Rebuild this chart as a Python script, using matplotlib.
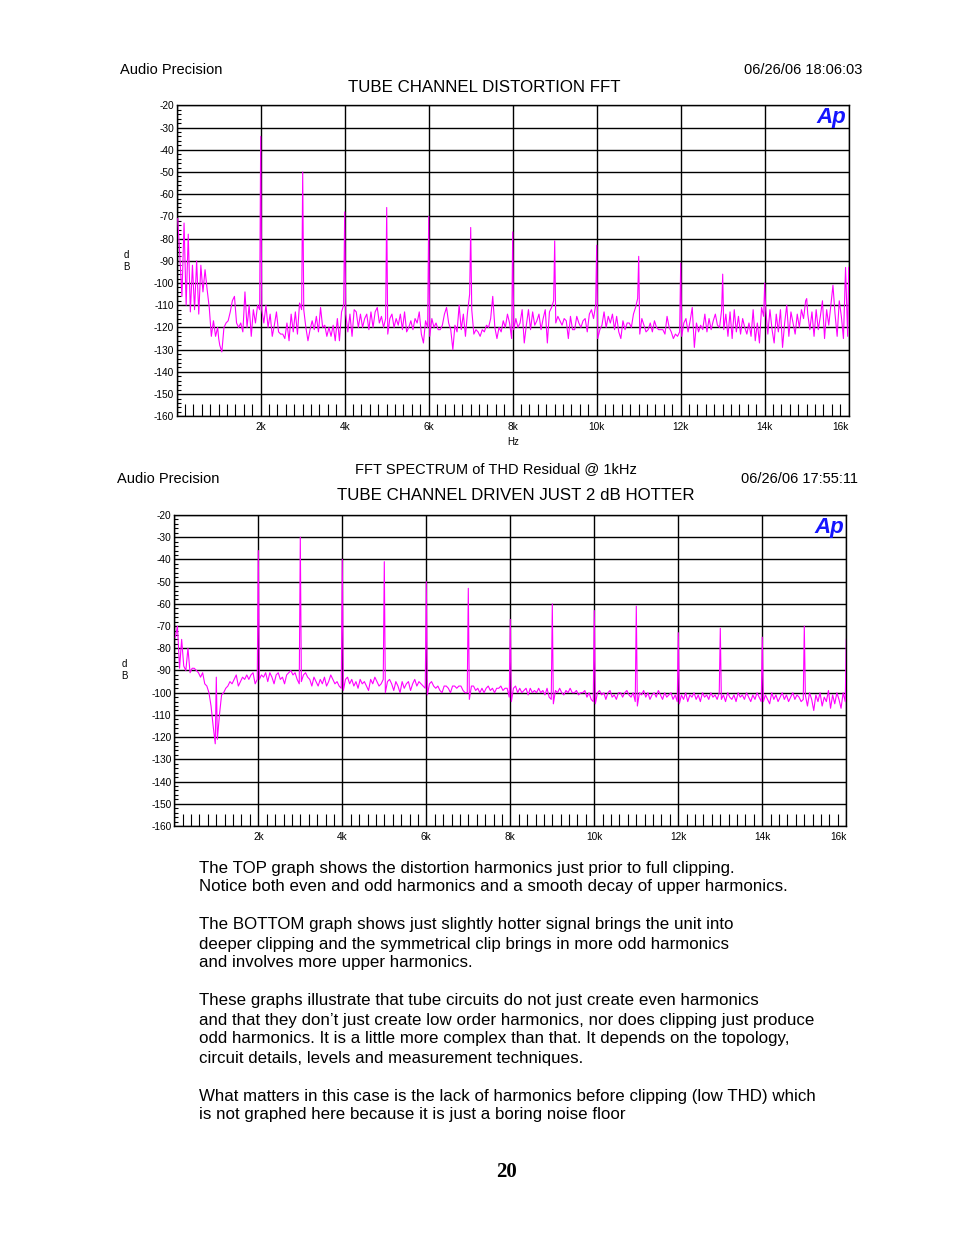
import numpy as np
import matplotlib
matplotlib.use("Agg")
import matplotlib.pyplot as plt
from matplotlib.ticker import MultipleLocator

plt.rcParams["font.family"] = ["Liberation Sans", "DejaVu Sans"]

W, H = 954, 1235
MAGENTA = "#ff00ff"

# harmonic bins 1k..16k (dB)
HARM_HZ = [1000, 2000, 3000, 4000, 5000, 6000, 7000, 8000,
           9000, 10000, 11000, 12000, 13000, 14000, 15000, 16000]
TOP_HARM = [-125, -34, -50, -68, -66, -70, -75, -77, -81, -83, -88, -91, -96, -100, -107, -93]
BOT_HARM = [-93, -36, -30, -40, -41, -50, -53, -67, -60, -63, -61, -73, -71, -75, -70, -76]

# noise floor, one row per kHz, bins at +25, +75, ... +975 Hz
TOP_NOISE = [
    -71, -88, -106, -73, -110, -78, -113, -92, -112, -90, -114, -92, -104, -94, -103, -111, -124, -117, -124, -120,
    -128, -131, -120, -118, -117, -113, -108, -106, -118, -120, -118, -122, -104, -120, -110, -124, -112, -118, -110, -112,
    -112, -118, -110, -120, -114, -124, -119, -113, -122, -123, -123, -125, -118, -126, -114, -122, -113, -123, -109, -112,
    -112, -120, -126, -121, -117, -121, -115, -122, -111, -120, -119, -124, -120, -124, -119, -126, -116, -126, -113, -110,
    -114, -122, -114, -124, -112, -113, -120, -114, -120, -116, -114, -121, -113, -120, -113, -111, -118, -115, -120, -116,
    -123, -116, -114, -120, -116, -119, -114, -121, -113, -122, -120, -117, -121, -116, -118, -113, -123, -127, -117, -120,
    -124, -116, -120, -118, -121, -121, -119, -114, -111, -118, -121, -130, -119, -122, -110, -121, -114, -124, -113, -105,
    -112, -123, -121, -122, -124, -121, -122, -119, -120, -116, -106, -120, -125, -120, -122, -117, -120, -114, -118, -125,
    -121, -116, -120, -118, -112, -127, -119, -112, -121, -113, -119, -117, -114, -121, -116, -112, -127, -113, -111, -108,
    -118, -115, -117, -119, -116, -117, -125, -115, -121, -121, -115, -118, -120, -117, -116, -122, -114, -112, -116, -110,
    -125, -121, -119, -113, -120, -115, -118, -114, -121, -115, -122, -125, -117, -121, -118, -118, -120, -114, -111, -107,
    -123, -116, -119, -122, -121, -118, -122, -117, -120, -121, -121, -121, -123, -115, -120, -122, -125, -123, -124, -122,
    -124, -118, -116, -122, -117, -111, -129, -118, -122, -119, -121, -114, -122, -116, -121, -117, -114, -119, -120, -112,
    -121, -114, -124, -113, -125, -112, -122, -115, -123, -116, -120, -123, -118, -124, -112, -126, -118, -127, -111, -115,
    -112, -123, -112, -121, -127, -114, -122, -112, -129, -118, -110, -124, -113, -118, -123, -114, -120, -112, -116, -108,
    -114, -121, -113, -124, -112, -121, -115, -108, -125, -112, -119, -110, -101, -114, -124, -108, -115, -125, -93, -124,
]

BOT_NOISE = [
    -75, -70, -89, -76, -88, -90, -80, -91, -89, -89, -90, -91, -93, -91, -96, -97, -100, -106, -115, -123,
    -121, -110, -101, -100, -98, -97, -95, -96, -94, -92, -97, -95, -93, -94, -92, -94, -92, -91, -96, -94,
    -94, -92, -93, -91, -95, -91, -93, -96, -92, -91, -94, -93, -96, -92, -91, -90, -92, -91, -94, -96,
    -95, -92, -91, -93, -94, -97, -93, -95, -97, -94, -96, -93, -97, -95, -92, -94, -96, -95, -97, -98,
    -99, -94, -93, -96, -94, -97, -95, -98, -94, -96, -95, -97, -99, -94, -96, -93, -95, -97, -96, -94,
    -100, -95, -94, -96, -99, -95, -97, -100, -95, -98, -96, -95, -99, -96, -94, -97, -95, -96, -97, -98,
    -101, -96, -95, -97, -98, -97, -99, -100, -97, -97, -98, -100, -97, -97, -98, -97, -97, -99, -100, -100,
    -103, -97, -97, -99, -98, -100, -98, -100, -98, -97, -99, -98, -100, -98, -98, -97, -99, -98, -98, -102,
    -104, -98, -97, -100, -98, -100, -99, -98, -101, -98, -100, -99, -100, -98, -100, -99, -101, -98, -102, -103,
    -105, -99, -100, -98, -100, -101, -99, -100, -98, -100, -100, -99, -101, -100, -100, -99, -102, -100, -103, -104,
    -105, -100, -99, -101, -100, -103, -100, -99, -102, -101, -103, -100, -100, -102, -100, -99, -101, -102, -100, -104,
    -106, -100, -101, -99, -102, -100, -103, -101, -100, -102, -99, -101, -103, -100, -102, -101, -100, -103, -101, -104,
    -105, -101, -103, -100, -104, -101, -102, -100, -103, -101, -104, -100, -102, -101, -103, -100, -102, -101, -103, -100,
    -103, -101, -104, -100, -102, -103, -101, -104, -100, -102, -101, -103, -100, -102, -104, -101, -103, -100, -102, -104,
    -104, -101, -103, -105, -100, -103, -101, -104, -102, -100, -103, -101, -104, -102, -100, -103, -101, -102, -104, -103,
    -101, -106, -100, -103, -108, -101, -104, -100, -106, -102, -104, -99, -107, -101, -105, -100, -103, -107, -100, -104,
]

Y_TICKS = [-20, -30, -40, -50, -60, -70, -80, -90, -100, -110, -120, -130, -140, -150, -160]
X_TICKS = [0, 2000, 4000, 6000, 8000, 10000, 12000, 14000, 16000]
X_LABELS = ["", "2k", "4k", "6k", "8k", "10k", "12k", "14k", "16k"]

PARAGRAPH = [
    (867, "The TOP graph shows the distortion harmonics just prior to full clipping."),
    (886, "Notice both even and odd harmonics and a smooth decay of upper harmonics."),
    (924, "The BOTTOM graph shows just slightly hotter signal brings the unit into"),
    (943, "deeper clipping and the symmetrical clip brings in more odd harmonics"),
    (962, "and involves more upper harmonics."),
    (1000, "These graphs illustrate that tube circuits do not just create even harmonics"),
    (1019, "and that they don\u2019t just create low order harmonics, nor does clipping just produce"),
    (1038, "odd harmonics. It is a little more complex than that. It depends on the topology,"),
    (1057, "circuit details, levels and measurement techniques."),
    (1095, "What matters in this case is the lack of harmonics before clipping (low THD) which"),
    (1114, "is not graphed here because it is just a boring noise floor"),
]


def px(fig, x, y, s, **kw):
    fig.text(x / W, 1 - y / H, s, **kw)


def spectrum(noise, harm):
    fn = 25 + 50 * np.arange(len(noise))
    f = np.concatenate([fn, HARM_HZ])
    v = np.concatenate([noise, harm]).astype(float)
    o = np.argsort(f, kind="stable")
    return f[o], v[o]


def panel(fig, left, top, noise, harm):
    ax = fig.add_axes([left / W, 1 - (top + 311) / H, 672 / W, 311 / H])
    f, v = spectrum(noise, harm)
    ax.plot(f, v, color=MAGENTA, lw=0.8, zorder=3)
    ax.set_xlim(0, 16000); ax.set_ylim(-160, -20)
    ax.set_yticks(Y_TICKS); ax.set_yticklabels([str(t) for t in Y_TICKS], fontsize=7.3)
    ax.set_xticks(X_TICKS); ax.set_xticklabels(X_LABELS, fontsize=7.3)
    ax.get_xticklabels()[-1].set_ha("right")
    ax.yaxis.set_minor_locator(MultipleLocator(2))
    ax.xaxis.set_minor_locator(MultipleLocator(200))
    ax.tick_params(which="major", length=0)
    ax.tick_params(axis="y", which="major", pad=2)
    ax.tick_params(axis="x", which="major", pad=4)
    ax.tick_params(axis="y", which="minor", direction="in", length=3, width=0.8)
    ax.tick_params(axis="x", which="minor", direction="in", length=8.6, width=0.8)
    ax.grid(True, which="major", color="black", lw=1.0, zorder=1)
    ax.set_axisbelow(True)
    for s in ax.spines.values():
        s.set_linewidth(1.0)
    ax.text(0.997, 0.993, "Ap", transform=ax.transAxes, ha="right", va="top",
            fontsize=16, fontweight="bold", fontstyle="italic", color="#1414ff", zorder=5)
    return ax


def main():
    fig = plt.figure(figsize=(W / 100, H / 100), dpi=100)

    # top graph
    px(fig, 120, 70, "Audio Precision", fontsize=10.5, ha="left", va="center")
    px(fig, 862, 70, "06/26/06 18:06:03", fontsize=10.5, ha="right", va="center")
    px(fig, 484, 88, "TUBE CHANNEL DISTORTION FFT", fontsize=12.2, ha="center", va="center")
    panel(fig, 176.7, 105.3, TOP_NOISE, TOP_HARM)
    px(fig, 126, 255, "d", fontsize=7, ha="center", va="center")
    px(fig, 126, 267, "B", fontsize=7, ha="center", va="center")
    px(fig, 513, 442, "Hz", fontsize=7, ha="center", va="center")

    # bottom graph
    px(fig, 117, 479, "Audio Precision", fontsize=10.5, ha="left", va="center")
    px(fig, 496, 469, "FFT SPECTRUM of THD Residual @ 1kHz", fontsize=10.5, ha="center", va="center")
    px(fig, 858, 479, "06/26/06 17:55:11", fontsize=10.5, ha="right", va="center")
    px(fig, 516, 496, "TUBE CHANNEL DRIVEN JUST 2 dB HOTTER", fontsize=12.2, ha="center", va="center")
    panel(fig, 174.3, 515, BOT_NOISE, BOT_HARM)
    px(fig, 124, 664, "d", fontsize=7, ha="center", va="center")
    px(fig, 124, 676, "B", fontsize=7, ha="center", va="center")

    for y, s in PARAGRAPH:
        px(fig, 199, y + 1, s, fontsize=12.2, ha="left", va="center")
    px(fig, 507, 1172, "20", fontsize=15, fontweight="bold", family="Liberation Serif",
       ha="center", va="center")

    fig.savefig("out.png", dpi=100, facecolor="white")
    plt.close(fig)


if __name__ == "__main__":
    main()
